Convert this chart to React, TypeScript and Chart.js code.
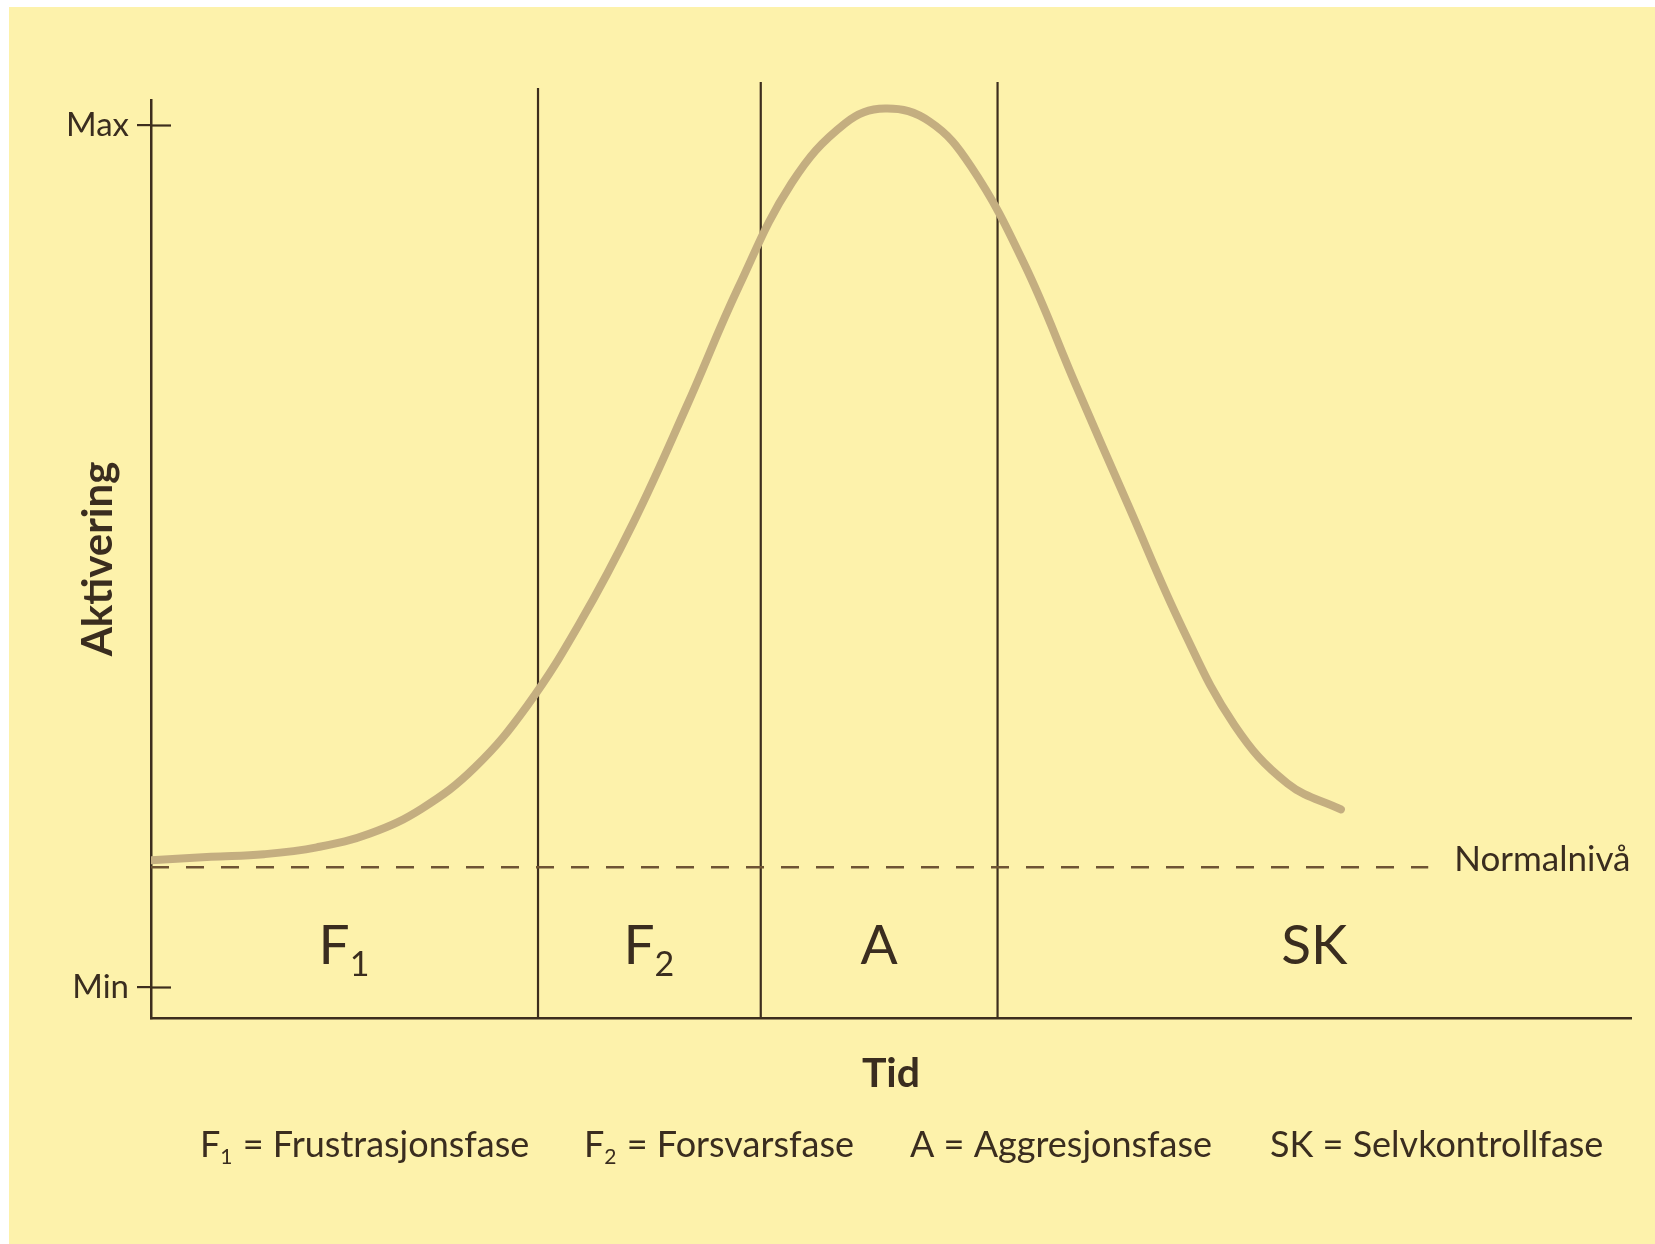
import React, { useEffect, useRef } from "react";
import { Chart, registerables } from "chart.js";

Chart.register(...registerables);

// ---- data ----
const CURVE_X = [0, 4.06, 7.63, 11.2, 14.8, 18.3, 21.9, 25.45, 29.0, 32.6, 36.2, 39.7, 43.3, 46.9, 49.6, 52.6, 55.4, 59.0, 62.5, 66.1, 69.7, 73.2, 76.8, 80.4];
const CURVE_Y = [14.7, 15.1, 15.4, 16.2, 17.8, 20.7, 25.5, 32.7, 42.3, 53.9, 67.4, 81.2, 93.3, 100.2, 101.9, 100.4, 95.2, 83.9, 69.8, 55.6, 41.6, 30.4, 23.6, 20.6];
const PHASE_BOUNDS = [26.15, 41.2, 57.2];
const PHASE_LINE_TOP = [104.3, 105.0, 105.0];
const PHASE_MAIN = ["F", "F", "A", "SK"];
const PHASE_SUB = ["1", "2", "", ""];
const LEGEND_MAIN = ["F", "F", "A", "SK"];
const LEGEND_SUB = ["1", "2", "", ""];
const LEGEND_TEXT = ["Frustrasjonsfase", "Forsvarsfase", "Aggresjonsfase", "Selvkontrollfase"];
const Y_TICKS = [0, 100];
const Y_TICK_LABELS = ["Min", "Max"];
const NORMAL_LEVEL = 13.9;
const NORMAL_END = 86.3;
const NORMAL_LABEL = "Normalnivå";
const X_TITLE = "Tid";
const Y_TITLE = "Aktivering";
const X_MIN = 0;
const X_MAX = 100;
const Y_MIN = -3.6;
const Y_MAX = 102.9;

// ---- styles ----
const BG = "#fdf2ab";
const INK = "#3a2d1f";
const LINE_INK = "#3d2e1e";
const CURVE = "#c4ae80";
const DASH = "#6e5434";
const FONT = "Lato, 'Open Sans', 'DejaVu Sans', sans-serif";

const W = 1655;
const H = 1244;
const AREA_LEFT = 151;
const AREA_RIGHT = 1631;
const AREA_TOP = 100;
const AREA_BOTTOM = 1018;
const X_TITLE_SIZE = 41;
const Y_TITLE_SIZE = 42;
const Y_TITLE_PAD = 30;
const X_TITLE_CENTER = 1074;
const Y_TITLE_CENTER = 98;

export default function App() {
  const ref = useRef<HTMLCanvasElement | null>(null);

  useEffect(() => {
    const canvas = ref.current;
    if (!canvas) return;

    const xTitleHalf = (X_TITLE_SIZE * 1.2) / 2;
    const yTitleHalf = (Y_TITLE_SIZE * 1.2) / 2;
    const xScaleBottom = X_TITLE_CENTER + xTitleHalf;
    const yScaleLeft = Y_TITLE_CENTER - yTitleHalf - Y_TITLE_PAD;

    const bgPlugin = {
      id: "bg",
      beforeDraw(chart: any) {
        const { ctx, width, height } = chart;
        ctx.save();
        ctx.fillStyle = "#ffffff";
        ctx.fillRect(0, 0, width, height);
        ctx.fillStyle = BG;
        ctx.fillRect(9, 7, width - 9, height - 7);
        ctx.restore();
      },
    };

    const drawSubText = (ctx: any, main: string, sub: string, x: number, y: number, size: number, subSize: number, drop: number, align: string) => {
      ctx.font = `${size}px ${FONT}`;
      const w1 = ctx.measureText(main).width;
      ctx.font = `${subSize}px ${FONT}`;
      const w2 = sub ? ctx.measureText(sub).width + 1 : 0;
      const total = w1 + w2;
      const startX = align === "center" ? x - total / 2 : x;
      ctx.textAlign = "left";
      ctx.textBaseline = "alphabetic";
      ctx.font = `${size}px ${FONT}`;
      ctx.fillText(main, startX, y);
      if (sub) {
        ctx.font = `${subSize}px ${FONT}`;
        ctx.fillText(sub, startX + w1, y + drop);
      }
      return startX + total;
    };

    const annotPlugin = {
      id: "annot",
      afterDraw(chart: any) {
        const { ctx, chartArea } = chart;
        const xs = chart.scales.x;
        const ys = chart.scales.y;
        ctx.save();
        // tick marks crossing the axis to the right
        ctx.strokeStyle = LINE_INK;
        ctx.lineWidth = 2.2;
        Y_TICKS.forEach((v) => {
          const py = Math.round(ys.getPixelForValue(v)) + 0.5;
          ctx.beginPath();
          ctx.moveTo(chartArea.left, py);
          ctx.lineTo(chartArea.left + 20, py);
          ctx.stroke();
        });
        ctx.fillStyle = INK;
        // phase labels
        const bounds = [X_MIN, ...PHASE_BOUNDS, X_MAX];
        const labelY = ys.getPixelForValue(0) - 23;
        PHASE_MAIN.forEach((m, i) => {
          const cx = (xs.getPixelForValue(bounds[i]) + xs.getPixelForValue(bounds[i + 1])) / 2;
          drawSubText(ctx, m, PHASE_SUB[i], cx, labelY, 55, 34, 12, "center");
        });
        // normal level label
        ctx.font = `35px ${FONT}`;
        ctx.textAlign = "left";
        ctx.textBaseline = "middle";
        ctx.fillText(NORMAL_LABEL, xs.getPixelForValue(NORMAL_END) + 26, ys.getPixelForValue(NORMAL_LEVEL) - 7);
        // legend row
        const starts = [200, 584, 910, 1270];
        LEGEND_MAIN.forEach((m, i) => {
          const x = drawSubText(ctx, m, LEGEND_SUB[i], starts[i], 1157, 36, 21, 7, "left");
          ctx.font = `36px ${FONT}`;
          ctx.textBaseline = "alphabetic";
          ctx.fillText(" = " + LEGEND_TEXT[i], x, 1157);
        });
        ctx.restore();
      },
    };

    const chart = new Chart(canvas, {
      type: "line",
      data: {
        datasets: [
          {
            label: Y_TITLE,
            data: CURVE_X.map((x, i) => ({ x, y: CURVE_Y[i] })),
            borderColor: CURVE,
            borderWidth: 8,
            pointRadius: 0,
            tension: 0.4,
            borderCapStyle: "round",
            borderJoinStyle: "round",
            fill: false,
          },
          {
            label: NORMAL_LABEL,
            data: [
              { x: X_MIN, y: NORMAL_LEVEL },
              { x: NORMAL_END, y: NORMAL_LEVEL },
            ],
            borderColor: DASH,
            borderWidth: 2.5,
            borderDash: [18, 17],
            pointRadius: 0,
            fill: false,
          },
          ...PHASE_BOUNDS.map((b, i) => ({
            label: "fase" + (i + 1),
            data: [
              { x: b, y: Y_MIN },
              { x: b, y: PHASE_LINE_TOP[i] },
            ],
            borderColor: LINE_INK,
            borderWidth: 2.2,
            pointRadius: 0,
            fill: false,
            clip: false as any,
          })),
        ],
      },
      options: {
        animation: false,
        responsive: false,
        maintainAspectRatio: false,
        layout: {
          padding: {
            left: yScaleLeft,
            top: AREA_TOP,
            right: W - AREA_RIGHT,
            bottom: H - xScaleBottom,
          },
        },
        plugins: {
          legend: { display: false },
          tooltip: { enabled: false },
          title: { display: false },
        },
        scales: {
          x: {
            type: "linear",
            min: X_MIN,
            max: X_MAX,
            ticks: { display: false },
            grid: { display: false, drawTicks: false },
            border: { display: true, color: LINE_INK, width: 2.5 },
            title: {
              display: true,
              text: X_TITLE,
              color: INK,
              font: { family: FONT, size: X_TITLE_SIZE, weight: "bold" },
              padding: 0,
            },
            afterFit: (scale: any) => {
              scale.height = xScaleBottom - AREA_BOTTOM;
            },
          },
          y: {
            type: "linear",
            min: Y_MIN,
            max: Y_MAX,
            afterBuildTicks: (scale: any) => {
              scale.ticks = Y_TICKS.map((v) => ({ value: v }));
            },
            ticks: {
              color: INK,
              font: { family: FONT, size: 33 },
              padding: 8,
              autoSkip: false,
              callback: (_v: any, i: number) => Y_TICK_LABELS[i],
            },
            grid: {
              display: true,
              drawOnChartArea: false,
              drawTicks: true,
              tickLength: 14,
              color: LINE_INK,
              lineWidth: 2.2,
            },
            border: { display: true, color: LINE_INK, width: 2.5 },
            title: {
              display: true,
              text: Y_TITLE,
              color: INK,
              font: { family: FONT, size: Y_TITLE_SIZE, weight: "bold" },
              padding: { top: Y_TITLE_PAD, bottom: 0 },
            },
            afterFit: (scale: any) => {
              scale.width = AREA_LEFT - yScaleLeft;
            },
          },
        },
      },
      plugins: [bgPlugin, annotPlugin],
    } as any);

    return () => chart.destroy();
  }, []);

  return (
    <div style={{ position: "fixed", left: 0, top: 0, width: W, height: H }}>
      <canvas ref={ref} width={W} height={H} style={{ width: W, height: H, display: "block" }} />
    </div>
  );
}
